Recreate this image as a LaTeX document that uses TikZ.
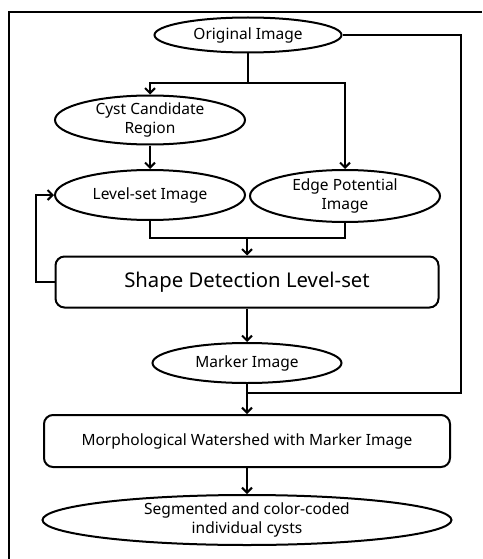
\documentclass[tikz,border=0pt]{standalone}
\usepackage{fontspec}
\setmainfont{Noto Sans}
\usetikzlibrary{shapes.geometric,arrows.meta}

\tikzset{
  imgnode/.style={ellipse, draw, line width=2pt, inner sep=0pt, align=center,
    font=\fontsize{15.5}{19}\selectfont},
  procbox/.style={rectangle, rounded corners=9pt, draw, line width=2pt,
    inner sep=0pt, align=center},
  wire/.style={line width=2pt},
  flow/.style={wire, -{Straight Barb[length=5pt,width=10pt,line width=2pt]}}
}

\begin{document}
\begin{tikzpicture}[x=1pt,y=-1pt]
\useasboundingbox (0,0) rectangle (482,559);
% frame, open at right and bottom
\draw[wire] (9,559) -- (9,12) -- (482,12);

\node[imgnode, minimum width=187pt, minimum height=35pt] (orig) at (248,35) {Original Image};
\node[imgnode, minimum width=190pt, minimum height=49pt] (cand) at (150,120) {Cyst Candidate\\Region};
\node[imgnode, minimum width=190pt, minimum height=50pt] (lset) at (150,195) {Level-set Image};
\node[imgnode, minimum width=190pt, minimum height=52pt] (edge) at (345,196) {Edge Potential\\Image};
\node[procbox, minimum width=383pt, minimum height=51pt,
  font=\fontsize{20.3}{24}\selectfont] (sdls) at (247,282) {Shape Detection Level-set};
\node[imgnode, minimum width=189pt, minimum height=40pt] (marker) at (247,363) {Marker Image};
\node[procbox, minimum width=406pt, minimum height=52pt,
  font=\fontsize{15.5}{19}\selectfont] (mws) at (247,441) {Morphological Watershed with Marker Image};
\node[imgnode, minimum width=409pt, minimum height=50pt] (seg) at (247,520) {Segmented and color-coded\\individual cysts};

\coordinate (split) at (0,83);
\coordinate (merge) at (0,238);
\coordinate (join) at (0,393);
\coordinate (loop) at (36,0);
\coordinate (rail) at (461,0);

% fan out from the original image
\draw[wire] (orig.south) -- (orig.south |- split);
\draw[flow] (orig.south |- split) -| (cand.north);
\draw[flow] (orig.south |- split) -| (edge.north);
\draw[flow] (cand) -- (lset);

% both inputs into the level-set step
\draw[wire] (lset.south) |- (sdls.north |- merge) -| (edge.south);
\draw[flow] (sdls.north |- merge) -- (sdls.north);
\draw[flow] (sdls.west) -- (loop |- sdls.west) -- (loop |- lset.west) -- (lset.west);
\draw[flow] (sdls) -- (marker);

% original image goes round to the watershed
\draw[wire] (orig.east) -- (rail |- orig.east) -- (rail |- join) -- (marker.south |- join);
\draw[flow] (marker.south) -- (mws.north);
\draw[flow] (mws) -- (seg);
\end{tikzpicture}
\end{document}
